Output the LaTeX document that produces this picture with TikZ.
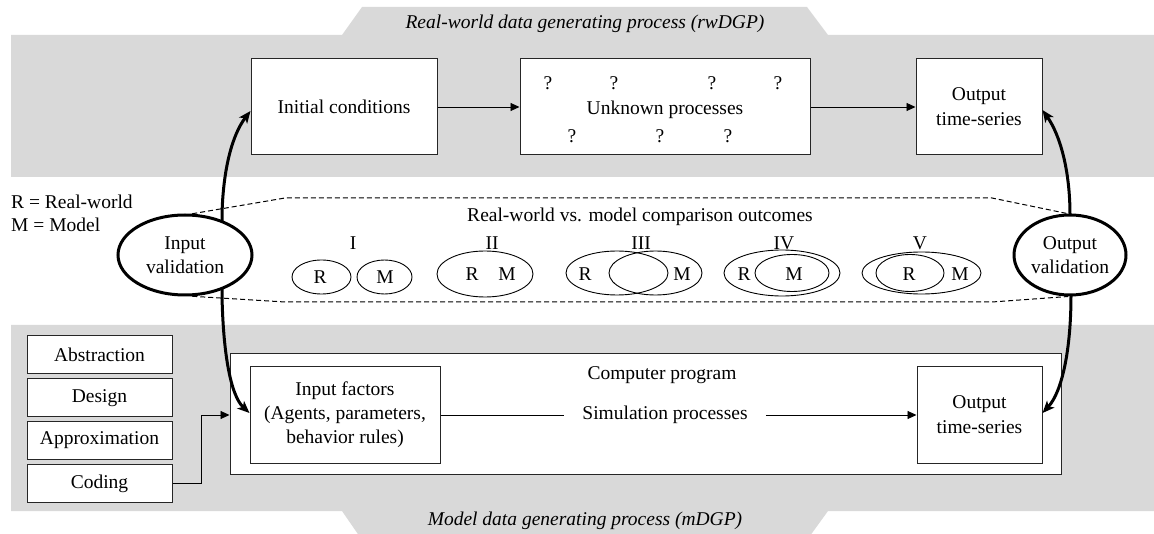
\documentclass[tikz,border=0pt]{standalone}
\usepackage{fontspec}
\setmainfont{Liberation Serif}
\usetikzlibrary{arrows.meta,shapes.geometric,calc}
\definecolor{band}{HTML}{D9D9D9}
\begin{document}
\begin{tikzpicture}[x=1pt,y=-1pt,
  font=\fontsize{19.5}{25}\selectfont,
  box/.style={draw=black!85, line width=1pt, fill=white, align=center, inner sep=0pt},
  sbox/.style={box, minimum width=145pt, minimum height=38pt},
  tarr/.style={-{Triangle[length=9pt,width=8pt]}, line width=0.9pt},
  valarr/.style={line width=3pt, -{Stealth[length=12pt,width=10pt,inset=3pt]}},
  valel/.style={ellipse, draw, line width=3pt, fill=white, inner sep=0pt, align=center,
    font=\fontsize{19.5}{24}\selectfont},
  dsh/.style={dash pattern=on 5pt off 3pt, line width=1pt},
  venn/.style={line width=0.9pt},
  lab/.style={inner sep=0pt, anchor=center}]
\useasboundingbox (0,0) rectangle (1154,534);
\clip (0,0) rectangle (1154,534);
% bands
\fill[band] (11,35) -- (342,35) -- (362,7) -- (807,7) -- (828,35) -- (1160,35)
  -- (1160,177) -- (11,177) -- cycle;
\fill[band] (11,325) -- (1160,325) -- (1160,511) -- (828,511) -- (807,540)
  -- (362,540) -- (342,511) -- (11,511) -- cycle;
\node[lab, font=\fontsize{19.5}{25}\selectfont\itshape] (rwt) at (585,24) {Real-world data generating process (rwDGP)};
\node[lab, font=\fontsize{19.5}{25}\selectfont\itshape] (mdt) at (585,521) {Model data generating process (mDGP)};
% top row
\node[box, minimum width=186pt, minimum height=96pt] (init) at (344,107) {Initial conditions};
\node[box, minimum width=290pt, minimum height=96pt] (unk) at (665,107) {};
\node[lab] (unkt) at (665,110) {Unknown processes};
\foreach \x/\y [count=\i] in {548/83,614/83,712/83,778/83,572/136,660/136,728/136}
  \node[lab] (q\i) at (\x,\y) {?};
\node[box, minimum width=126pt, minimum height=96pt] (outt) at (979,107) {Output\\time-series};
\draw[tarr] (init) -- (unk);
\draw[tarr] (unk) -- (outt);
% legend
\node[anchor=west, inner sep=0pt] (lr) at (11,202) {R = Real-world};
\node[anchor=west, inner sep=0pt] (lm) at (11,225) {M = Model};
% bottom
\node[box, minimum width=831pt, minimum height=120pt] (prog) at (645.5,414) {};
\node[lab] (cpt) at (662,375) {Computer program};
\node[box, minimum width=190pt, minimum height=96pt, font=\fontsize{19.5}{24}\selectfont] (inf) at (345,415) {Input factors\\(Agents, parameters,\\behavior rules)};
\node[lab, inner xsep=18pt] (sim) at (665,415) {Simulation processes};
\node[box, minimum width=125pt, minimum height=96pt] (outb) at (979.5,415) {Output\\time-series};
\draw[line width=0.9pt] (inf) -- (sim);
\draw[tarr] (sim) -- (outb);
\node[sbox] (abs) at (99.5,355) {Abstraction};
\node[sbox] (des) at (99.5,398) {Design};
\node[sbox] (app) at (99.5,440.5) {Approximation};
\node[sbox] (cod) at (99.5,483.5) {Coding};
\draw[tarr] (cod.east) -- ++(29,0) |- (prog.west |- inf.west);
% validation arrows
\coordinate (lv) at (222,255);
\coordinate (rv) at (1071,255);
\draw[valarr] (lv) -- (222,215) .. controls (223,170) and (232,135) .. ([yshift=-4pt]init.west);
\draw[valarr] (lv) -- (222,295) .. controls (223,350) and (230,395) .. ([yshift=2pt]inf.west);
\draw[valarr] (rv) -- (1070,215) .. controls (1070,170) and (1060,135) .. ([yshift=-3pt]outt.east);
\draw[valarr] (rv) -- (1071,295) .. controls (1071,350) and (1062,392) .. ([yshift=2pt]outb.east);
% validation ellipses
\node[valel, minimum width=134pt, minimum height=80pt] (inval) at (185,255) {Input\\validation};
\node[valel, minimum width=112pt, minimum height=80pt] (outval) at (1070,255) {Output\\validation};
% dashed frame
\draw[dsh] (inval.80) -- (285,198) -- (992,198) -- ([xshift=-3pt]outval.north);
\draw[dsh] (inval.-80) -- (285,302) -- (992,302) -- ([xshift=-2pt]outval.south);
\node[lab] (cmp) at (640,217) {Real-world vs. model comparison outcomes};
% Venn labels
\node[lab] (l1) at (353,243) {I};
\node[lab] (l2) at (492,243) {II};
\node[lab] (l3) at (641,243) {III};
\node[lab] (l4) at (784,243) {IV};
\node[lab] (l5) at (920,243) {V};
% Venn I
\draw[venn] (321.5,277) ellipse [x radius=29.5, y radius=17];
\draw[venn] (384.5,277) ellipse [x radius=27.5, y radius=17];
\node[lab] (r1) at (320,277) {R};
\node[lab] (m1) at (385,277) {M};
% II
\draw[venn] (485,274) ellipse [x radius=48, y radius=23];
\node[lab] (r2) at (472,274) {R};
\node[lab] (m2) at (507,274) {M};
% III
\draw[venn] (617,273) ellipse [x radius=51, y radius=22];
\draw[venn] (655.5,273) ellipse [x radius=46.5, y radius=22];
\node[lab] (r3) at (585,274) {R};
\node[lab] (m3) at (682,274) {M};
% IV
\draw[venn] (782,273) ellipse [x radius=58, y radius=23];
\draw[venn] (792,273) ellipse [x radius=37, y radius=18.5];
\node[lab] (r4) at (744,274) {R};
\node[lab] (m4) at (794,274) {M};
% V
\draw[venn] (921.5,273) ellipse [x radius=59.5, y radius=21];
\draw[venn] (910,273) ellipse [x radius=34, y radius=18.5];
\node[lab] (r5) at (909,274) {R};
\node[lab] (m5) at (960,274) {M};
\end{tikzpicture}
\end{document}
